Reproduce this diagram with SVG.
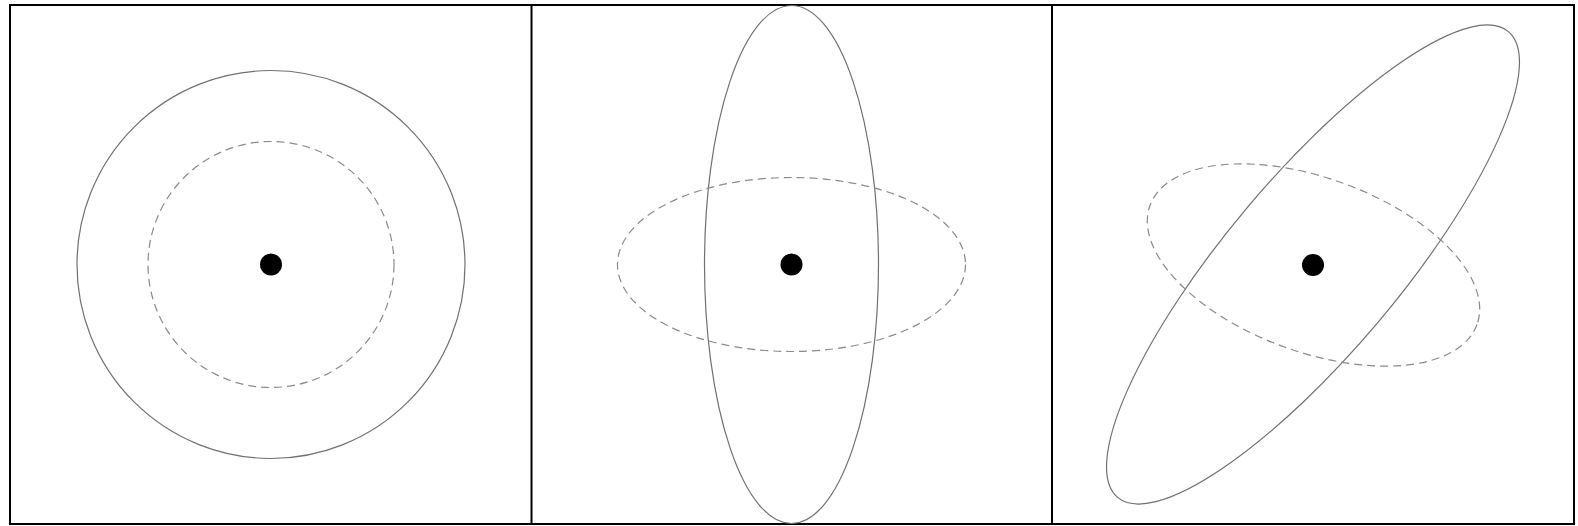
<svg xmlns="http://www.w3.org/2000/svg" width="1578" height="526" viewBox="0 0 1578 526">
  <style>
    .frame { fill: none; stroke: #000; stroke-width: 2; }
    .solid { fill: none; stroke: #707070; stroke-width: 1.2; }
    .dashed { fill: none; stroke: #8a8a8a; stroke-width: 1.2; stroke-dasharray: 8 5; }
    .dot { fill: #000; }
  </style>
  <rect width="1578" height="526" fill="#fff"/>
  <g id="frame">
    <rect class="frame" x="10" y="5" width="1564" height="519"/>
    <line class="frame" x1="531.5" y1="5" x2="531.5" y2="524"/>
    <line class="frame" x1="1052" y1="5" x2="1052" y2="524"/>
  </g>
  <g id="panel1">
    <circle class="solid" cx="271" cy="264.5" r="194"/>
    <circle class="dashed" cx="271" cy="264.5" r="123"/>
    <circle class="dot" cx="271" cy="264.5" r="11"/>
  </g>
  <g id="panel2">
    <ellipse class="solid" cx="791.5" cy="264.5" rx="87" ry="259"/>
    <ellipse class="dashed" cx="791.5" cy="264.5" rx="174" ry="87"/>
    <circle class="dot" cx="791.5" cy="264.5" r="11"/>
  </g>
  <g id="panel3">
    <ellipse class="solid" cx="1313" cy="264.5" rx="304" ry="87" transform="rotate(-50 1313 264.5)"/>
    <ellipse class="dashed" cx="1313.5" cy="265" rx="174" ry="87" transform="rotate(20 1313.5 265)"/>
    <circle class="dot" cx="1313" cy="265" r="11"/>
  </g>
</svg>
